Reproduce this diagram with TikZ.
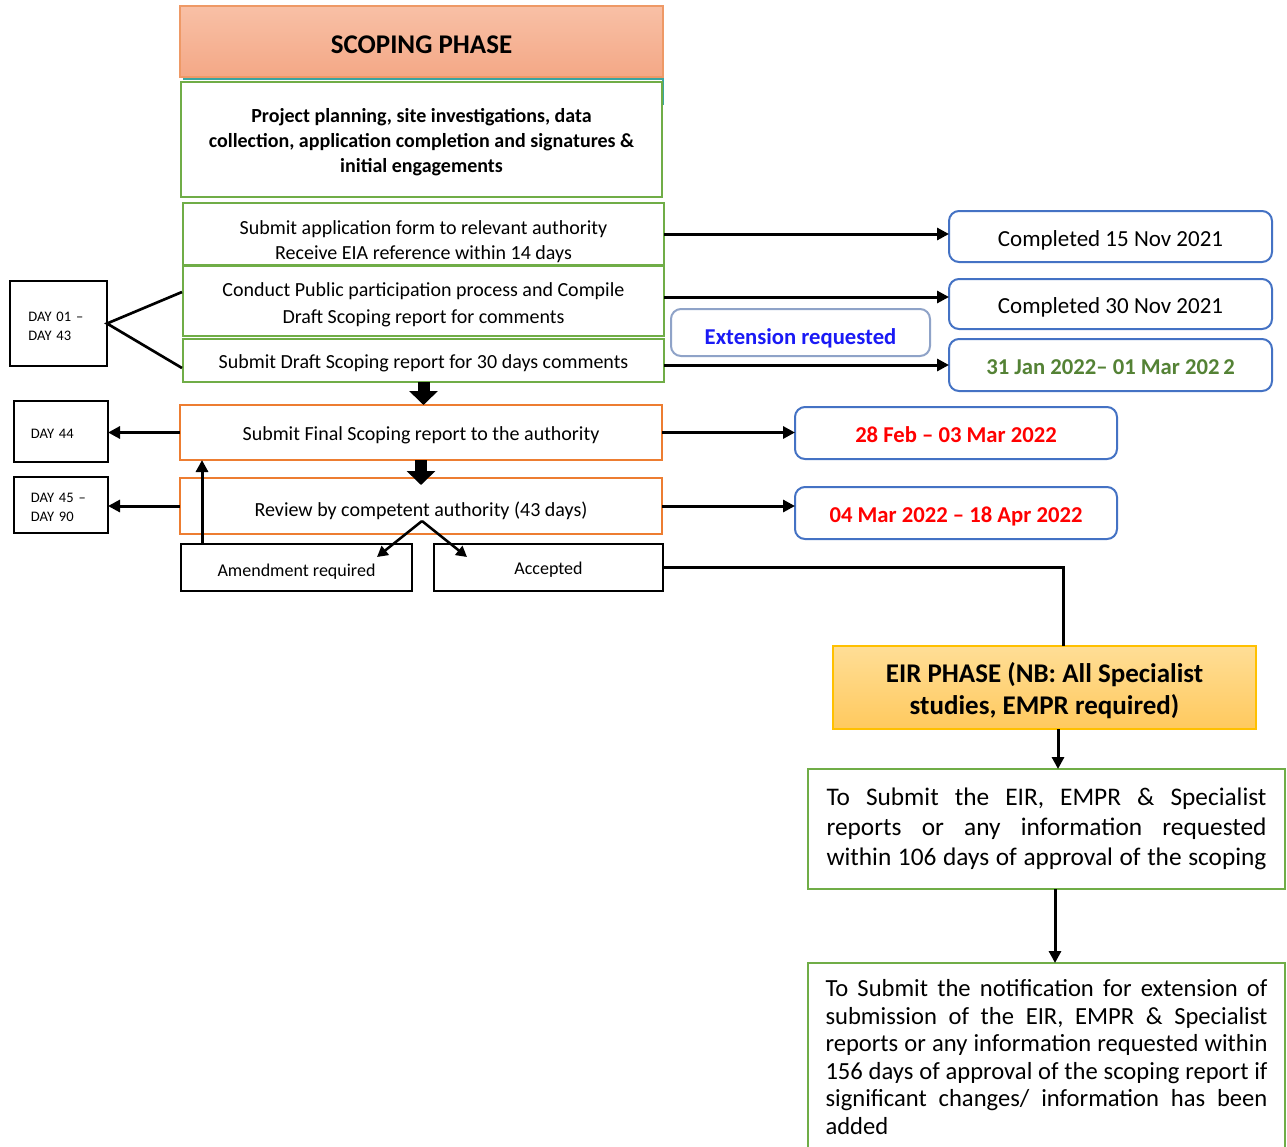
\documentclass[tikz,border=0pt]{standalone}
\usepackage{fontspec}
\setmainfont{Carlito}
\usetikzlibrary{arrows.meta,calc}
\newdimen\px \px=0.75pt
\newcommand\jl[2][440]{\makebox[#1\px][s]{#2}}
\definecolor{gboxc}{HTML}{70AD47}
\definecolor{oboxc}{HTML}{ED7D31}
\definecolor{bboxc}{HTML}{4472C4}
\definecolor{extc}{HTML}{8FA3C8}
\definecolor{txtgreen}{HTML}{548235}
\definecolor{txtred}{HTML}{FF0000}
\definecolor{txtblue}{HTML}{1A1AF5}
\definecolor{scoptop}{HTML}{F8C0A6}
\definecolor{scopbot}{HTML}{F4A886}
\definecolor{scopdraw}{HTML}{EE9966}
\definecolor{eirtop}{HTML}{FFDE96}
\definecolor{eirbot}{HTML}{FFC95E}
\definecolor{eirdraw}{HTML}{FFC000}
\definecolor{tealc}{HTML}{3AA5A0}
% #1 text offset (px, downwards), #2 name, #3-#6 corners, #7 box style, #8 text style, #9 text
\newcommand\bx[9][3]{%
  \node[#7, minimum width={(#5-#3)*\px}, minimum height={(#6-#4)*\px}] (#2) at ({(#3+#5)/2},{(#4+#6)/2}) {};
  \node[tbase, #8] (#2-t) at ($(#2.center)+(0,#1)$) {#9};}
\tikzset{
  base/.style={inner sep=0pt, outer sep=0pt, line width=1.5pt},
  tbase/.style={inner sep=0pt, outer sep=0pt, align=center},
  gbox/.style={base, draw=gboxc, fill=white},
  obox/.style={base, draw=oboxc, fill=white},
  kbox/.style={base, draw=black, fill=white},
  rbox/.style={base, draw=bboxc, rounded corners=7.5pt, fill=white},
  conn/.style={line width=2.25pt, -{Triangle[length=9pt,width=9pt]}},
  splitarrow/.style={line width=1.9pt, -{Triangle[length=8pt,width=8.5pt]}},
  plainline/.style={line width=2pt},
  fat/.style={line width=9pt, -{Triangle[length=10.5pt,width=21pt]}},
  txt/.style={font=\fontsize{15pt}{18.75pt}\selectfont},
  daytxt/.style={font=\fontsize{10.9pt}{14.25pt}\selectfont, align=left, text width=60*\px},
  datetxt/.style={font=\fontsize{17.25pt}{20pt}\selectfont},
  boldtxt/.style={font=\fontsize{17pt}{20pt}\selectfont\bfseries},
  headtxt/.style={font=\fontsize{20.25pt}{24pt}\selectfont\bfseries},
  smalltxt/.style={font=\fontsize{13.5pt}{16pt}\selectfont},
}
\begin{document}
\begin{tikzpicture}[x=0.75pt,y=-0.75pt]
\useasboundingbox (0,0) rectangle (1287,1146);
\clip (0,0) rectangle (1287,1146);
\fill[white] (0,0) rectangle (1287,1146);

% teal remnant under the title
\draw[tealc, line width=1.2pt] (183,79) -- (663,79) -- (663,105);

% scoping column
\bx{scop}{180}{6}{663}{77}{base, draw=scopdraw, line width=0.9pt, top color=scoptop, bottom color=scopbot}{headtxt}{SCOPING PHASE}
\bx{plan}{181}{82}{662}{197}{gbox}{font=\fontsize{15pt}{18.75pt}\selectfont\bfseries}{Project planning, site investigations, data\\collection, application completion and signatures \&\\initial engagements}
\bx[8]{app}{183}{203}{664}{265}{gbox}{txt}{Submit application form to relevant authority\\Receive EIA reference within 14 days}
\bx[4]{pp}{183}{266}{664}{336}{gbox}{font=\fontsize{15pt}{20.25pt}\selectfont}{Conduct Public participation process and Compile\\Draft Scoping report for comments}
\bx{draft}{183}{339}{664}{382}{gbox}{txt}{Submit Draft Scoping report for 30 days comments}
\bx{final}{180}{405}{662}{460}{obox}{txt}{Submit Final Scoping report to the authority}
\bx[5]{review}{180}{478}{662}{534}{obox}{txt}{Review by competent authority (43 days)}
\bx[4]{amend}{181}{544}{412}{591}{kbox}{smalltxt}{Amendment required}
\bx[2]{acc}{434}{544}{663}{591}{kbox}{smalltxt}{Accepted}

% day boxes
\bx{dA}{10}{281}{107}{366}{kbox}{daytxt}{DAY 01 –\\DAY 43}
\bx[2]{dB}{14}{401}{108}{462}{kbox}{daytxt}{DAY 44}
\bx[2.5]{dC}{14}{477}{108}{533}{kbox}{daytxt}{DAY 45 –\\DAY 90}

% date boxes
\bx[4]{cA}{949}{211}{1272}{262}{rbox}{datetxt}{Completed 15 Nov 2021}
\bx{cB}{949}{279}{1272}{329}{rbox}{datetxt}{Completed 30 Nov 2021}
\bx[6]{ext}{671}{309}{930}{356}{rbox, draw=extc}{boldtxt, text=txtblue}{Extension requested}
\bx[2]{cC}{949}{339}{1272}{391}{rbox}{boldtxt, text=txtgreen}{31 Jan 2022– 01 Mar 202\,2}
\bx[2]{cD}{795}{407}{1117}{459}{rbox}{boldtxt, text=txtred}{28 Feb – 03 Mar 2022}
\bx{cE}{795}{487}{1117}{539}{rbox}{boldtxt, text=txtred}{04 Mar 2022 – 18 Apr 2022}

% EIR column
\bx{eir}{833}{646}{1256}{729}{base, draw=eirdraw, line width=1pt, top color=eirtop, bottom color=eirbot}{headtxt}{EIR PHASE (NB: All Specialist\\studies, EMPR required)}
\bx[0]{sub}{808}{769}{1285}{889}{gbox}{align=left, font=\fontsize{19pt}{22.5pt}\selectfont}{\jl{To Submit the EIR, EMPR \& Specialist}\\
\jl{reports or any information requested}\\
\jl{within 106 days of approval of the scoping}}
\bx[0]{note}{808}{963}{1285}{1151}{gbox}{align=left, font=\fontsize{18.45pt}{20.6pt}\selectfont}{\jl[442]{To Submit the notification for extension of}\\
\jl[442]{submission of the EIR, EMPR \& Specialist}\\
\jl[442]{reports or any information requested within}\\
\jl[442]{156 days of approval of the scoping report if}\\
\jl[442]{significant changes/ information has been}\\
\makebox[442\px][l]{added}}

% helper coordinates
\coordinate (pa) at (182,292);
\coordinate (pb) at (182,368);
\coordinate (upx) at (202,500);
\coordinate (apex) at (422,521);
\coordinate (tipA) at (377,557);
\coordinate (tipB) at (467,557);
\coordinate (eirx) at (1063,600);
\coordinate (ax) at (1058,750);
\coordinate (bx) at (1055,920);

% connectors to the right
\draw[conn] (app.east) -- (app.east -| cA.west);
\draw[conn] ($(pp.east)+(0,-4)$) -- ($(pp.east -| cB.west)+(0,-4)$);
\draw[conn] (draft.east |- cC.west) -- (cC.west);
\draw[conn] (final.east) -- (final.east -| cD.west);
\draw[conn] (review.east) -- (review.east -| cE.west);

% connectors to the left
\draw[conn] (final.west) -- (final.west -| dB.east);
\draw[conn] (review.west) -- (review.west -| dC.east);
\draw[plainline] (pa) -- (dA.east) -- (pb);

% fat arrows
\draw[fat] (draft.south) -- (draft.south |- final.north);
\draw[fat] (final.south) -- ($(final.south |- review.north)+(0,7)$);

% review decision
\draw[splitarrow] (apex) -- (tipA);
\draw[splitarrow] (apex) -- (tipB);
\draw[conn] (amend.north -| upx) -- (final.south -| upx);

% accepted to EIR
\draw[plainline, line width=2.25pt] (acc.east) -| (eir.north -| eirx);
\draw[conn] (eir.south -| ax) -- (sub.north -| ax);
\draw[conn] (sub.south -| bx) -- (note.north -| bx);
\end{tikzpicture}
\end{document}
